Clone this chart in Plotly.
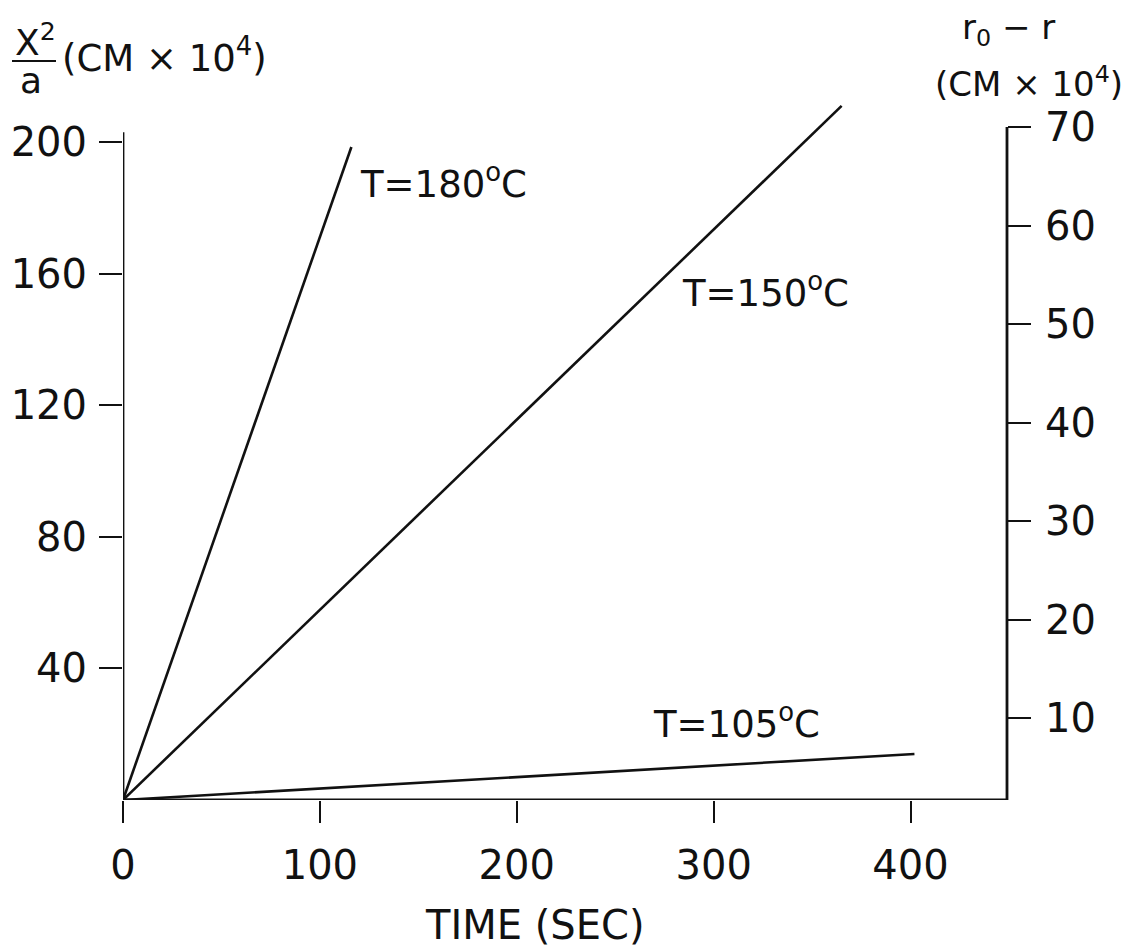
import plotly.graph_objects as go

# ---- data ----
series_names = ["T=180<sup>o</sup>C", "T=150<sup>o</sup>C", "T=105<sup>o</sup>C"]
time_180 = [0, 116]
x2a_180 = [0, 198.5]
time_150 = [0, 365]
x2a_150 = [0, 211]
time_105 = [0, 402]
x2a_105 = [0, 14]

x_tickvals = [0, 100, 200, 300, 400]
y_tickvals = [40, 80, 120, 160, 200]
y2_tickvals = [10, 20, 30, 40, 50, 60, 70]

# ---- layout geometry ----
W, H = 1130, 949
L, R, T, B = 123, 123, 100, 149
PW, PH = W - L - R, H - T - B
X_RANGE = [0, 449]
Y_RANGE = [0, 212.8]
Y2_RANGE = [1.68, 72.75]

FONT = "DejaVu Sans"
INK = "#111111"


def px(x):
    return (x - L) / PW


def py(y):
    return (H - B - y) / PH


fig = go.Figure()
for xs, ys, name in [(time_180, x2a_180, series_names[0]),
                     (time_150, x2a_150, series_names[1]),
                     (time_105, x2a_105, series_names[2])]:
    fig.add_trace(go.Scatter(x=xs, y=ys, mode="lines", name=name,
                             line=dict(color=INK, width=2.6),
                             showlegend=False, hoverinfo="skip"))

# invisible trace to activate the right axis
fig.add_trace(go.Scatter(x=[0], y=[Y2_RANGE[0]], yaxis="y2", mode="markers",
                         marker=dict(opacity=0), showlegend=False, hoverinfo="skip"))

tickfont = dict(family=FONT, size=40, color=INK)

fig.update_layout(
    width=W, height=H,
    margin=dict(l=L, r=R, t=T, b=B, pad=0, autoexpand=False),
    paper_bgcolor="white", plot_bgcolor="white",
    xaxis=dict(range=X_RANGE, showgrid=False, zeroline=False, showline=False,
               automargin=False,
               tickvals=x_tickvals, ticks="outside", ticklen=22, tickwidth=2.4,
               tickcolor=INK, tickfont=tickfont, ticklabelstandoff=8),
    yaxis=dict(range=Y_RANGE, showgrid=False, zeroline=False, showline=False,
               automargin=False,
               tickvals=y_tickvals, ticks="outside", ticklen=23, tickwidth=2.4,
               tickcolor=INK, tickfont=tickfont, ticklabelstandoff=4),
    yaxis2=dict(range=Y2_RANGE, overlaying="y", side="right", showgrid=False,
                automargin=False,
                zeroline=False, showline=False, tickvals=y2_tickvals,
                ticks="outside", ticklen=23, tickwidth=2.4, tickcolor=INK,
                tickfont=tickfont, ticklabelstandoff=6),
)

# axis lines
fig.add_shape(type="line", xref="x", yref="y", x0=0, x1=0, y0=-7, y1=203,
              line=dict(color=INK, width=2.8))
fig.add_shape(type="line", xref="x", yref="y", x0=-12, x1=X_RANGE[1], y0=0, y1=0,
              line=dict(color=INK, width=3))
fig.add_shape(type="line", xref="paper", yref="y2", x0=1, x1=1, y0=Y2_RANGE[0], y1=70,
              line=dict(color=INK, width=2.8))

# curve labels
labfont = dict(family=FONT, size=37, color=INK)
for x, y, txt in [(119.5, 188, series_names[0]),
                  (283, 155, series_names[1]),
                  (268, 24, series_names[2])]:
    fig.add_annotation(x=x, y=y, xref="x", yref="y", text=txt, showarrow=False,
                       xanchor="left", yanchor="middle", font=labfont)


def note(x, y, text, size=34, xanchor="center"):
    fig.add_annotation(xref="paper", yref="paper", x=px(x), y=py(y), text=text,
                       showarrow=False, xanchor=xanchor, yanchor="middle",
                       font=dict(family=FONT, size=size, color=INK))


# axis titles
note(535, 925, "TIME (SEC)", size=40)
# left: X^2 / a (CM x 10^4)
note(35, 40, "X<sup>2</sup>", size=36)
fig.add_shape(type="line", xref="paper", yref="paper", x0=px(12), x1=px(56),
              y0=py(61), y1=py(61), line=dict(color=INK, width=2.2))
note(31, 80, "a", size=36)
note(60, 56, "(CM × 10<sup>4</sup>)", size=37, xanchor="left")
# right: r0 - r (CM x 10^4)
note(1008, 30, "r<sub>0</sub> − r")
note(1029, 82, "(CM × 10<sup>4</sup>)")

fig.write_html("out.html")
